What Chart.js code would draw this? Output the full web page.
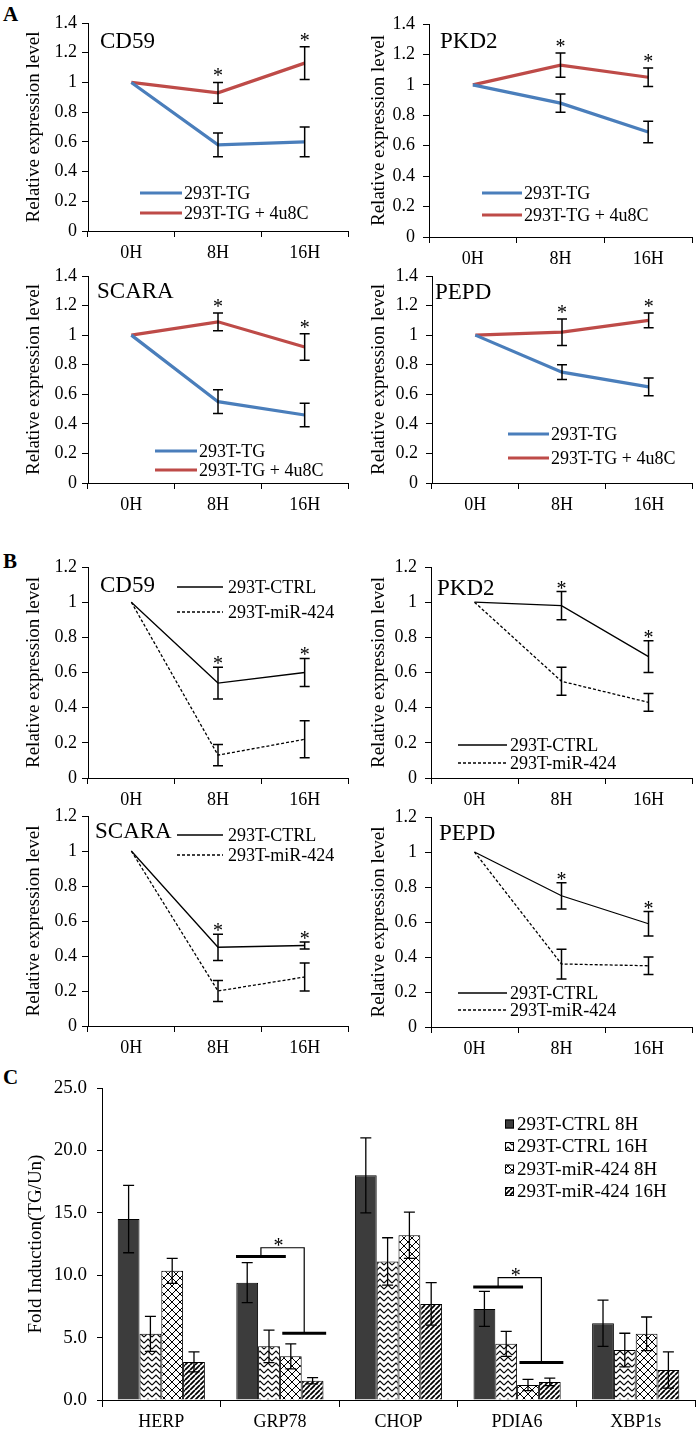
<!DOCTYPE html>
<html>
<head>
<meta charset="utf-8">
<title>CD59 / PKD2 / SCARA / PEPD expression and UPR induction</title>
<style>
  body { margin: 0; background: #fff; }
  #fig { position: relative; width: 697px; height: 1431px; overflow: hidden; }
  #fig canvas { position: absolute; }
  .tag { position: absolute; font: bold 21px "Liberation Serif", serif; line-height: 21px; color: #000; }
</style>
</head>
<body>
<div id="fig">
  <div class="tag" style="left:3px;top:4px">A</div>
  <div class="tag" style="left:3px;top:551px">B</div>
  <div class="tag" style="left:3px;top:1067px">C</div>
</div>

<script src="https://cdn.jsdelivr.net/npm/chart.js"></script>
<script>
// ---- data ----
const hours = ['0H', '8H', '16H'];

// A: 293T-TG vs 293T-TG + 4u8C
const aCd59Tg = [1, 0.58, 0.60],  aCd59TgErr = [0, 0.08, 0.10];
const aCd59Inh = [1, 0.93, 1.13], aCd59InhErr = [0, 0.07, 0.11];
const aPkd2Tg = [1, 0.88, 0.69],  aPkd2TgErr = [0, 0.06, 0.07];
const aPkd2Inh = [1, 1.13, 1.05], aPkd2InhErr = [0, 0.08, 0.06];
const aScaraTg = [1, 0.55, 0.46],  aScaraTgErr = [0, 0.08, 0.08];
const aScaraInh = [1, 1.09, 0.92], aScaraInhErr = [0, 0.06, 0.09];
const aPepdTg = [1, 0.75, 0.65],  aPepdTgErr = [0, 0.05, 0.06];
const aPepdInh = [1, 1.02, 1.10], aPepdInhErr = [0, 0.09, 0.05];

// B: 293T-CTRL vs 293T-miR-424
const bCd59Ctrl = [1, 0.54, 0.60],  bCd59CtrlErr = [0, 0.09, 0.08];
const bCd59Mir = [1, 0.13, 0.22],   bCd59MirErr = [0, 0.06, 0.105];
const bPkd2Ctrl = [1, 0.98, 0.69],  bPkd2CtrlErr = [0, 0.08, 0.09];
const bPkd2Mir = [1, 0.55, 0.43],   bPkd2MirErr = [0, 0.08, 0.05];
const bScaraCtrl = [1, 0.45, 0.46], bScaraCtrlErr = [0, 0.075, 0.02];
const bScaraMir = [1, 0.20, 0.28],  bScaraMirErr = [0, 0.06, 0.08];
const bPepdCtrl = [1, 0.75, 0.59],  bPepdCtrlErr = [0, 0.075, 0.07];
const bPepdMir = [1, 0.36, 0.35],   bPepdMirErr = [0, 0.085, 0.05];

// C: fold induction
const genes = ['HERP', 'GRP78', 'CHOP', 'PDIA6', 'XBP1s'];
const ctrl8 = [14.5, 9.4, 18.0, 7.3, 6.15];
const ctrl8Err = [2.7, 1.6, 3.0, 1.4, 1.85];
const ctrl16 = [5.3, 4.3, 11.1, 4.5, 4.0];
const ctrl16Err = [1.4, 1.3, 1.9, 1.0, 1.35];
const mir8 = [10.35, 3.5, 13.2, 1.2, 5.3];
const mir8Err = [1.0, 1.0, 1.85, 0.45, 1.35];
const mir16 = [3.05, 1.55, 7.7, 1.45, 2.4];
const mir16Err = [0.8, 0.25, 1.7, 0.3, 1.45];

// significance brackets in C (gene index, left bar level, right bar level, bracket top)
const bracketGene = [1, 3];
const bracketLeftY = [11.5, 9.05];
const bracketRightY = [5.35, 3.0];
const bracketTopY = [12.2, 9.8];

// ---- setup ----
const serif = '"Liberation Serif", "Times New Roman", serif';
Chart.defaults.font.family = serif;
Chart.defaults.color = '#000';

const decor = {};   // per-canvas labels, legends, stars

function place(id, b) {
  const c = document.createElement('canvas');
  c.id = id;
  c.width = b.W;
  c.height = b.H;
  c.style.left = b.L + 'px';
  c.style.top = b.T + 'px';
  document.getElementById('fig').appendChild(c);
  return c;
}

function drawErr(ctx, px, top, bot, cap) {
  ctx.beginPath();
  ctx.moveTo(px, top); ctx.lineTo(px, bot);
  ctx.moveTo(px - cap / 2, top); ctx.lineTo(px + cap / 2, top);
  ctx.moveTo(px - cap / 2, bot); ctx.lineTo(px + cap / 2, bot);
  ctx.stroke();
}

const extras = {
  id: 'extras',
  afterDatasetsDraw(chart) {
    const d = decor[chart.canvas.id];
    if (!d) return;
    const {ctx, chartArea: ca} = chart;
    const x = chart.scales.x, y = chart.scales.y;
    const sets = chart.data.datasets;
    ctx.save();
    ctx.strokeStyle = '#000';
    ctx.fillStyle = '#000';
    ctx.lineWidth = d.errW;

    // error bars
    sets.forEach((ds, i) => {
      const meta = chart.getDatasetMeta(i);
      ds.err.forEach((e, j) => {
        if (!e) return;
        drawErr(ctx, meta.data[j].x,
          y.getPixelForValue(ds.data[j] + e),
          y.getPixelForValue(ds.data[j] - e), d.cap);
      });
    });

    // asterisks above the highest error bar
    if (d.stars) {
      ctx.font = '20px ' + serif;
      ctx.textAlign = 'center';
      ctx.textBaseline = 'alphabetic';
      d.stars.forEach(j => {
        const top = Math.min(...sets.map(ds => y.getPixelForValue(ds.data[j] + ds.err[j])));
        ctx.fillText('*', x.getPixelForValue(j), top + d.starGap);
      });
    }

    // gene name
    if (d.gene) {
      ctx.font = '23px ' + serif;
      ctx.textAlign = 'left';
      ctx.textBaseline = 'middle';
      ctx.fillText(d.gene.text, ca.left + d.gene.dx, ca.top + d.gene.dy);
    }

    // line legend
    if (d.legend) {
      const lg = d.legend;
      ctx.font = '18px ' + serif;
      ctx.textAlign = 'left';
      ctx.textBaseline = 'middle';
      sets.forEach((ds, i) => {
        const yy = ca.top + lg.dy + i * lg.gap;
        ctx.save();
        ctx.strokeStyle = ds.borderColor;
        ctx.lineWidth = ds.borderWidth;
        ctx.setLineDash(ds.borderDash || []);
        ctx.beginPath();
        ctx.moveTo(ca.left + lg.dx1, yy);
        ctx.lineTo(ca.left + lg.dx2, yy);
        ctx.stroke();
        ctx.restore();
        ctx.fillText(ds.label, ca.left + lg.dx2 + lg.tx, yy + 1);
      });
    }

    // box legend (bar chart)
    if (d.boxLegend) {
      const lg = d.boxLegend;
      ctx.font = '19px ' + serif;
      ctx.textAlign = 'left';
      ctx.textBaseline = 'middle';
      sets.forEach((ds, i) => {
        const yy = ca.top + lg.dy + i * lg.gap;
        const bx = ca.left + lg.dx;
        ctx.fillStyle = ds.backgroundColor;
        ctx.fillRect(bx, yy - lg.size / 2, lg.size, lg.size);
        ctx.lineWidth = 1;
        ctx.strokeRect(bx + 0.5, yy - lg.size / 2 + 0.5, lg.size - 1, lg.size - 1);
        ctx.fillStyle = '#000';
        ctx.fillText(ds.label, bx + lg.size + 3, yy + 1);
      });
    }

    // significance brackets
    if (d.brackets) {
      bracketGene.forEach((g, k) => {
        const lx1 = x.getPixelForValue(g - 0.37), lx2 = x.getPixelForValue(g + 0.05);
        const rx1 = x.getPixelForValue(g + 0.02), rx2 = x.getPixelForValue(g + 0.39);
        const ly = y.getPixelForValue(bracketLeftY[k]);
        const ry = y.getPixelForValue(bracketRightY[k]);
        const ty = y.getPixelForValue(bracketTopY[k]);
        const lm = (lx1 + lx2) / 2, rm = (rx1 + rx2) / 2;
        ctx.lineWidth = 3;
        ctx.beginPath();
        ctx.moveTo(lx1, ly); ctx.lineTo(lx2, ly);
        ctx.moveTo(rx1, ry); ctx.lineTo(rx2, ry);
        ctx.stroke();
        ctx.lineWidth = 1.2;
        ctx.beginPath();
        ctx.moveTo(lm, ly); ctx.lineTo(lm, ty); ctx.lineTo(rm, ty); ctx.lineTo(rm, ry);
        ctx.stroke();
        ctx.font = '20px ' + serif;
        ctx.textAlign = 'center';
        ctx.textBaseline = 'alphabetic';
        ctx.fillText('*', (lm + rm) / 2 - 4, ty + 4);
      });
    }
    ctx.restore();
  }
};
Chart.register(extras);

function lineChart(id, b, yMax, series, deco) {
  const canvas = place(id, b);
  decor[id] = deco;
  new Chart(canvas, {
    type: 'line',
    data: {
      labels: hours,
      datasets: series.map(s => ({
        label: s.label, data: s.data, err: s.err,
        borderColor: s.color, borderWidth: s.width, borderDash: s.dash,
        pointRadius: 0, pointHoverRadius: 0, tension: 0, fill: false
      }))
    },
    options: {
      responsive: false,
      animation: false,
      events: [],
      layout: { padding: { top: b.at - b.T, right: b.L + b.W - b.ar, bottom: 0, left: 0 } },
      plugins: { legend: { display: false }, tooltip: { enabled: false } },
      scales: {
        x: {
          offset: true,
          grid: { offset: true, drawOnChartArea: false, color: '#000', tickLength: 6 },
          border: { color: '#000' },
          ticks: { color: '#000', font: { size: 18 }, padding: 5, maxRotation: 0 },
          afterFit: s => { s.height = b.T + b.H - b.ab; }
        },
        y: {
          min: 0, max: yMax,
          ticks: { stepSize: 0.2, color: '#000', font: { size: 18 }, padding: b.tp,
                   callback: v => String(+v.toFixed(1)) },
          grid: { drawOnChartArea: false, color: '#000', tickLength: 6 },
          border: { color: '#000' },
          title: { display: true, text: 'Relative expression level', color: '#000',
                   font: { size: 19 }, padding: { top: 23, bottom: 0 } },
          afterFit: s => { s.width = b.ax - b.L; }
        }
      }
    }
  });
}

const blue = '#4A7EBB', red = '#BE4B48';
function aSeries(tg, tgErr, inh, inhErr) {
  return [
    { label: '293T-TG', data: tg, err: tgErr, color: blue, width: 3.2, dash: [] },
    { label: '293T-TG + 4u8C', data: inh, err: inhErr, color: red, width: 3.2, dash: [] }
  ];
}
function bSeries(ctrl, ctrlErr, mir, mirErr) {
  return [
    { label: '293T-CTRL', data: ctrl, err: ctrlErr, color: '#000', width: 1.3, dash: [] },
    { label: '293T-miR-424', data: mir, err: mirErr, color: '#000', width: 1.3, dash: [3, 2] }
  ];
}

// panel A
lineChart('a1', { L: 0, T: 0, W: 352, H: 263, ax: 88, at: 23, ar: 348, ab: 231, tp: 5 }, 1.4,
  aSeries(aCd59Tg, aCd59TgErr, aCd59Inh, aCd59InhErr),
  { errW: 1.5, cap: 10, stars: [1, 2], starGap: 0, gene: { text: 'CD59', dx: 12, dy: 19 },
    legend: { dx1: 52, dx2: 94, tx: 2, dy: 170, gap: 20 } });
lineChart('a2', { L: 345, T: 0, W: 352, H: 269, ax: 429, at: 24, ar: 692, ab: 237, tp: 8 }, 1.4,
  aSeries(aPkd2Tg, aPkd2TgErr, aPkd2Inh, aPkd2InhErr),
  { errW: 1.5, cap: 10, stars: [1, 2], starGap: 0, gene: { text: 'PKD2', dx: 11, dy: 18 },
    legend: { dx1: 53, dx2: 93, tx: 2, dy: 169, gap: 22 } });
lineChart('a3', { L: 0, T: 250, W: 352, H: 265, ax: 88, at: 276, ar: 348, ab: 483, tp: 5 }, 1.4,
  aSeries(aScaraTg, aScaraTgErr, aScaraInh, aScaraInhErr),
  { errW: 1.5, cap: 10, stars: [1, 2], starGap: 0, gene: { text: 'SCARA', dx: 9, dy: 16 },
    legend: { dx1: 67, dx2: 109, tx: 2, dy: 175, gap: 19 } });
lineChart('a4', { L: 345, T: 250, W: 352, H: 265, ax: 432, at: 276, ar: 692, ab: 483, tp: 8 }, 1.4,
  aSeries(aPepdTg, aPepdTgErr, aPepdInh, aPepdInhErr),
  { errW: 1.5, cap: 10, stars: [1, 2], starGap: 0, gene: { text: 'PEPD', dx: 3, dy: 17 },
    legend: { dx1: 76, dx2: 117, tx: 2, dy: 158, gap: 24 } });

// panel B
lineChart('b1', { L: 0, T: 545, W: 352, H: 265, ax: 88, at: 567, ar: 348, ab: 778, tp: 5 }, 1.2,
  bSeries(bCd59Ctrl, bCd59CtrlErr, bCd59Mir, bCd59MirErr),
  { errW: 1.5, cap: 10, stars: [1, 2], starGap: 3, gene: { text: 'CD59', dx: 12, dy: 19 },
    legend: { dx1: 89, dx2: 135, tx: 5, dy: 20, gap: 25 } });
lineChart('b2', { L: 345, T: 545, W: 352, H: 265, ax: 431, at: 567, ar: 692, ab: 778, tp: 8 }, 1.2,
  bSeries(bPkd2Ctrl, bPkd2CtrlErr, bPkd2Mir, bPkd2MirErr),
  { errW: 1.5, cap: 10, stars: [1, 2], starGap: 3, gene: { text: 'PKD2', dx: 6, dy: 22 },
    legend: { dx1: 27, dx2: 76, tx: 3, dy: 178, gap: 18 } });
lineChart('b3', { L: 0, T: 795, W: 352, H: 263, ax: 88, at: 816, ar: 348, ab: 1026, tp: 5 }, 1.2,
  bSeries(bScaraCtrl, bScaraCtrlErr, bScaraMir, bScaraMirErr),
  { errW: 1.5, cap: 10, stars: [1, 2], starGap: 3, gene: { text: 'SCARA', dx: 7, dy: 16 },
    legend: { dx1: 89, dx2: 135, tx: 5, dy: 19, gap: 20 } });
lineChart('b4', { L: 345, T: 795, W: 352, H: 263, ax: 431, at: 817, ar: 692, ab: 1027, tp: 8 }, 1.2,
  bSeries(bPepdCtrl, bPepdCtrlErr, bPepdMir, bPepdMirErr),
  { errW: 1.5, cap: 10, stars: [1, 2], starGap: 3, gene: { text: 'PEPD', dx: 8, dy: 17 },
    legend: { dx1: 27, dx2: 76, tx: 3, dy: 176, gap: 17 } });

// ---- panel C fill patterns ----
function pattern(w, h, draw) {
  const t = document.createElement('canvas');
  t.width = w; t.height = h;
  const g = t.getContext('2d');
  g.fillStyle = '#fff';
  g.fillRect(0, 0, w, h);
  g.strokeStyle = '#000';
  draw(g);
  return document.createElement('canvas').getContext('2d').createPattern(t, 'repeat');
}
const zigzag = pattern(8, 6, g => {
  g.lineWidth = 1.1;
  g.beginPath(); g.moveTo(0, 5); g.lineTo(4, 1); g.lineTo(8, 5); g.stroke();
});
const diamonds = pattern(8, 8, g => {
  g.lineWidth = 1;
  g.beginPath();
  g.moveTo(0, 0); g.lineTo(8, 8);
  g.moveTo(8, 0); g.lineTo(0, 8);
  g.stroke();
});
const stripes = pattern(5, 5, g => {
  g.lineWidth = 1.8;
  g.beginPath();
  [-5, 0, 5].forEach(k => { g.moveTo(k, 5); g.lineTo(k + 5, 0); });
  g.stroke();
});

const cBox = { L: 0, T: 1050, W: 697, H: 381, ax: 102, at: 1088, ar: 695, ab: 1400 };
decor.c = { errW: 1.3, cap: 11, brackets: true,
            boxLegend: { dx: 403, dy: 36, gap: 22.5, size: 9 } };
function barSet(label, data, err, fill) {
  return { label, data, err, backgroundColor: fill, borderColor: '#000', borderWidth: 1,
           categoryPercentage: 0.735, barPercentage: 1.0 };
}
new Chart(place('c', cBox), {
  type: 'bar',
  data: {
    labels: genes,
    datasets: [
      barSet('293T-CTRL 8H', ctrl8, ctrl8Err, '#3c3c3c'),
      barSet('293T-CTRL 16H', ctrl16, ctrl16Err, zigzag),
      barSet('293T-miR-424 8H', mir8, mir8Err, diamonds),
      barSet('293T-miR-424 16H', mir16, mir16Err, stripes)
    ]
  },
  options: {
    responsive: false,
    animation: false,
    events: [],
    layout: { padding: { top: cBox.at - cBox.T, right: cBox.L + cBox.W - cBox.ar, bottom: 0, left: 0 } },
    plugins: { legend: { display: false }, tooltip: { enabled: false } },
    scales: {
      x: {
        grid: { offset: true, drawOnChartArea: false, color: '#000', tickLength: 7 },
        border: { color: '#000' },
        ticks: { color: '#000', font: { size: 18 }, padding: 4, maxRotation: 0 },
        afterFit: s => { s.height = cBox.T + cBox.H - cBox.ab; }
      },
      y: {
        min: 0, max: 25,
        ticks: { stepSize: 5, color: '#000', font: { size: 19 }, padding: 10,
                 callback: v => v.toFixed(1) },
        grid: { drawOnChartArea: false, color: '#000', tickLength: 5 },
        border: { color: '#000' },
        title: { display: true, text: 'Fold Induction(TG/Un)', color: '#000',
                 font: { size: 19 }, padding: { top: 25, bottom: 0 } },
        afterFit: s => { s.width = cBox.ax - cBox.L; }
      }
    }
  }
});
</script>
</body>
</html>
